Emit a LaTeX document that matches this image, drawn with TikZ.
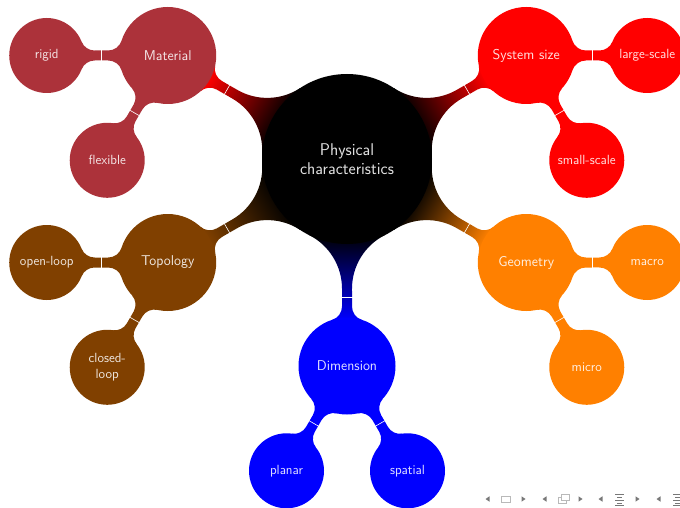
\documentclass[tikz,border=0pt]{standalone}
\usetikzlibrary{calc,backgrounds}
\definecolor{matc}{RGB}{172,50,58}
\definecolor{topc}{RGB}{128,64,0}
\definecolor{geoc}{RGB}{255,128,0}
\definecolor{navdark}{RGB}{120,120,120}
\definecolor{navlight}{RGB}{185,185,185}
% connection bar: #1 parent node, #2 direction, #3 centre distance,
% #4 parent radius, #5 child radius, #6/#7 fillet radii, #8 fill options
\newcommand{\conbar}[8]{%
  \pgfmathsetmacro{\cxa}{10*sqrt(((#4+#6)/10)^2-((5+#6)/10)^2)}%
  \pgfmathsetmacro{\cpa}{atan((5+#6)/\cxa)}%
  \pgfmathsetmacro{\cxbd}{10*sqrt(((#5+#7)/10)^2-((5+#7)/10)^2)}%
  \pgfmathsetmacro{\cxb}{#3-\cxbd}%
  \pgfmathsetmacro{\cpb}{atan((5+#7)/\cxbd)}%
  \pgfmathsetmacro{\cxm}{(\cxa+\cxb)/2}%
  \begin{scope}[transform canvas={shift={(#1.center)},rotate=#2}]
    \path[#8] (\cpa:#4) arc[start angle=180+\cpa, end angle=270, radius=#6]
      -- (\cxb,5) arc[start angle=270, end angle=360-\cpb, radius=#7]
      -- ($(#3,0)+(180+\cpb:#5)$) arc[start angle=\cpb, end angle=90, radius=#7]
      -- (\cxa,-5) arc[start angle=90, end angle=180-\cpa, radius=#6]
      -- cycle;
    \draw[tick] (\cxm,-5.6) -- (\cxm,5.6);
  \end{scope}}
\begin{document}
\begin{tikzpicture}[x=1pt,y=1pt,
  cbase/.style={circle, inner sep=0pt, text=white, text opacity=0.88, align=center},
  rootc/.style={cbase, fill=black, minimum size=170pt, text width=140pt,
    font=\sffamily\fontsize{17}{19.5}\selectfont},
  lvone/.style={cbase, fill=#1, minimum size=97pt, text width=90pt,
    font=\sffamily\fontsize{14.2}{17}\selectfont},
  lvtwo/.style={cbase, fill=#1, minimum size=75pt, text width=70pt,
    font=\sffamily\fontsize{13.3}{15.5}\selectfont},
  tick/.style={draw=white, line width=0.6pt},
  navtri/.style={fill=navdark, draw=none},
  navbox/.style={draw=navlight, line width=0.8pt, fill=white},
]
\useasboundingbox (0,0) rectangle (680,507);
% root
\node[rootc] (root) at (347,348) {Physical\\characteristics};
% level 1
\node[lvone=matc] (mat) at ($(root)+(150:207)$) {Material};
\node[lvone=red] (sys) at ($(root)+(30:207)$) {System size};
\node[lvone=topc] (top) at ($(root)+(210:207)$) {Topology};
\node[lvone=geoc] (geo) at ($(root)+(330:207)$) {Geometry};
\node[lvone=blue] (dim) at ($(root)+(270:207)$) {Dimension};
% level 2
\node[lvtwo=matc] (rigid) at ($(mat)+(180:121)$) {rigid};
\node[lvtwo=matc] (flex) at ($(mat)+(240:121)$) {flexible};
\node[lvtwo=red] (large) at ($(sys)+(0:121)$) {large-scale};
\node[lvtwo=red] (small) at ($(sys)+(300:121)$) {small-scale};
\node[lvtwo=topc] (open) at ($(top)+(180:121)$) {open-loop};
\node[lvtwo=topc] (closed) at ($(top)+(240:121)$) {closed-\\loop};
\node[lvtwo=geoc] (macro) at ($(geo)+(0:121)$) {macro};
\node[lvtwo=geoc] (micro) at ($(geo)+(300:121)$) {micro};
\node[lvtwo=blue] (planar) at ($(dim)+(240:121)$) {planar};
\node[lvtwo=blue] (spatial) at ($(dim)+(300:121)$) {spatial};
% connections
\begin{scope}[on background layer]
\conbar{root}{150}{207}{85}{48.5}{60}{14}{left color=black, right color=red}
\conbar{root}{30}{207}{85}{48.5}{60}{14}{left color=black, right color=red}
\conbar{root}{210}{207}{85}{48.5}{60}{14}{left color=black, right color=topc}
\conbar{root}{330}{207}{85}{48.5}{60}{14}{left color=black, right color=geoc}
\conbar{root}{270}{207}{85}{48.5}{60}{14}{left color=black, right color=blue}
\conbar{mat}{180}{121}{48.5}{37.5}{14}{14}{fill=matc}
\conbar{mat}{240}{121}{48.5}{37.5}{14}{14}{fill=matc}
\conbar{sys}{0}{121}{48.5}{37.5}{14}{14}{fill=red}
\conbar{sys}{300}{121}{48.5}{37.5}{14}{14}{fill=red}
\conbar{top}{180}{121}{48.5}{37.5}{14}{14}{fill=topc}
\conbar{top}{240}{121}{48.5}{37.5}{14}{14}{fill=topc}
\conbar{geo}{0}{121}{48.5}{37.5}{14}{14}{fill=geoc}
\conbar{geo}{300}{121}{48.5}{37.5}{14}{14}{fill=geoc}
\conbar{dim}{240}{121}{48.5}{37.5}{14}{14}{fill=blue}
\conbar{dim}{300}{121}{48.5}{37.5}{14}{14}{fill=blue}
\end{scope}
% navigation symbols
\fill[navtri] (485.5,8) -- (489.5,10.7) -- (489.5,5.3) -- cycle;
\draw[navbox] (501,5) rectangle (510,11);
\fill[navtri] (525.5,8) -- (521.5,10.7) -- (521.5,5.3) -- cycle;
\fill[navtri] (542.5,8) -- (546.5,10.7) -- (546.5,5.3) -- cycle;
\draw[navbox] (558,4) rectangle (566,10);
\draw[navbox] (561,7) rectangle (569,13);
\fill[navtri] (582.5,8) -- (578.5,10.7) -- (578.5,5.3) -- cycle;
\fill[navtri] (598.5,8) -- (602.5,10.7) -- (602.5,5.3) -- cycle;
\draw[navdark, line width=0.9pt] (615,13) -- (624,13) (617,10) -- (622,10) (615,7) -- (624,7) (617,4) -- (622,4) (615,1.5) -- (624,1.5);
\fill[navtri] (639.5,8) -- (635.5,10.7) -- (635.5,5.3) -- cycle;
\fill[navtri] (656.5,8) -- (660.5,10.7) -- (660.5,5.3) -- cycle;
\draw[navdark, line width=0.9pt] (673,13) -- (682,13) (675,10) -- (682,10) (673,7) -- (682,7) (675,4) -- (682,4) (673,1.5) -- (682,1.5);
\end{tikzpicture}
\end{document}
